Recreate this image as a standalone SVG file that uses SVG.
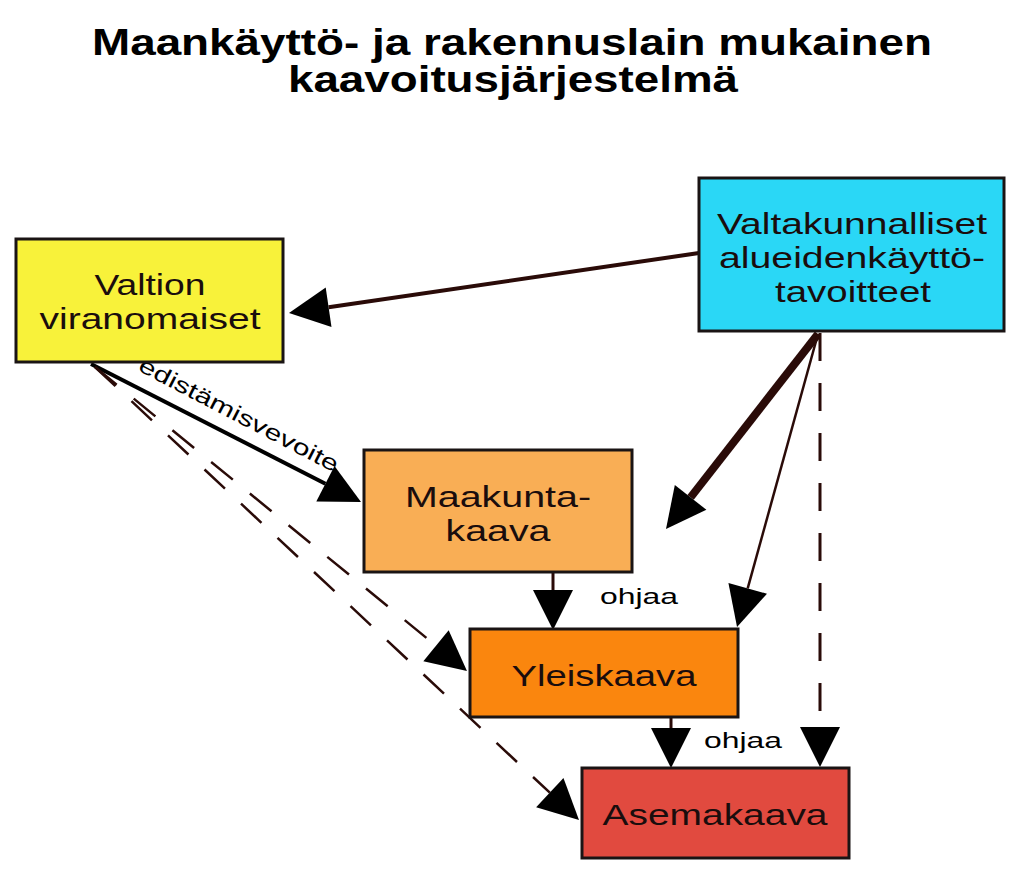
<svg xmlns="http://www.w3.org/2000/svg" width="1024" height="879" viewBox="0 0 1024 879">
<style>
.title{font-family:"Liberation Sans",Arial,sans-serif;font-weight:bold;font-size:36px;fill:#000;text-anchor:middle}
.box{stroke:#1a1414;stroke-width:3}
.lbl{font-family:"Liberation Sans",Arial,sans-serif;font-size:30px;fill:#1a0d0d;text-anchor:middle}
.small{font-family:"Liberation Sans",Arial,sans-serif;font-size:22px;fill:#000}
.ln{fill:none;stroke:#2a0b08}
.dash{stroke-dasharray:28 22;stroke-width:2.5}
</style>
<defs>
<marker id="ah" markerUnits="userSpaceOnUse" markerWidth="42" markerHeight="42" refX="0" refY="20" orient="auto" overflow="visible">
<path d="M0,0 L40,20 L0,40 z" fill="#000"/>
</marker>
</defs>
<rect width="1024" height="879" fill="#fff"/>
<text class="title" x="512" y="55" textLength="840" lengthAdjust="spacingAndGlyphs">Maankäyttö- ja rakennuslain mukainen</text>
<text class="title" x="513" y="92" textLength="450" lengthAdjust="spacingAndGlyphs">kaavoitusjärjestelmä</text>

<g id="connectors">
<line class="ln" x1="699" y1="253" x2="328.6" y2="307.2" stroke-width="4" marker-end="url(#ah)"/>
<line class="ln" x1="91" y1="364" x2="325.4" y2="483.8" stroke-width="4" style="stroke:#000" marker-end="url(#ah)"/>
<line class="ln dash" x1="95" y1="367" x2="436" y2="645.7" marker-end="url(#ah)"/>
<line class="ln dash" x1="95" y1="367" x2="549.8" y2="792.7" marker-end="url(#ah)"/>
<line class="ln" x1="818" y1="334" x2="690.6" y2="497.4" stroke-width="8" marker-end="url(#ah)"/>
<line class="ln" x1="818" y1="334" x2="747.7" y2="588.4" stroke-width="2.5" marker-end="url(#ah)"/>
<line class="ln dash" x1="820" y1="333" x2="820" y2="727" style="stroke-width:3" marker-end="url(#ah)"/>
<line class="ln" x1="553" y1="573" x2="553" y2="590" stroke-width="3" marker-end="url(#ah)"/>
<line class="ln" x1="671" y1="718" x2="671" y2="728" stroke-width="3" marker-end="url(#ah)"/>
<text class="small" transform="translate(137,370) rotate(27.5)" textLength="222" lengthAdjust="spacingAndGlyphs">edistämisvevoite</text>
<text class="small" x="600" y="604" textLength="78" lengthAdjust="spacingAndGlyphs">ohjaa</text>
<text class="small" x="704" y="748" textLength="78" lengthAdjust="spacingAndGlyphs">ohjaa</text>
</g>

<g id="valtion">
<rect class="box" x="16" y="239" width="267" height="123" fill="#f8f23a"/>
<text class="lbl" x="150" y="295" textLength="111" lengthAdjust="spacingAndGlyphs">Valtion</text>
<text class="lbl" x="150" y="329" textLength="221" lengthAdjust="spacingAndGlyphs">viranomaiset</text>
</g>
<g id="valtakunnalliset">
<rect class="box" x="699" y="178" width="305" height="153" fill="#2ad7f6"/>
<text class="lbl" x="852" y="234" textLength="270" lengthAdjust="spacingAndGlyphs">Valtakunnalliset</text>
<text class="lbl" x="852" y="268" textLength="266" lengthAdjust="spacingAndGlyphs">alueidenkäyttö-</text>
<text class="lbl" x="853" y="302" textLength="156" lengthAdjust="spacingAndGlyphs">tavoitteet</text>
</g>
<g id="maakunta">
<rect class="box" x="364" y="450" width="268" height="122" fill="#f9ae55"/>
<text class="lbl" x="498" y="507" textLength="186" lengthAdjust="spacingAndGlyphs">Maakunta-</text>
<text class="lbl" x="498" y="541" textLength="105" lengthAdjust="spacingAndGlyphs">kaava</text>
</g>
<g id="yleiskaava">
<rect class="box" x="470" y="629" width="268" height="88" fill="#fa860e"/>
<text class="lbl" x="604" y="686" textLength="185" lengthAdjust="spacingAndGlyphs">Yleiskaava</text>
</g>
<g id="asemakaava">
<rect class="box" x="582" y="768" width="267" height="90" fill="#e14a3f"/>
<text class="lbl" x="715" y="825" textLength="225" lengthAdjust="spacingAndGlyphs">Asemakaava</text>
</g>
</svg>
